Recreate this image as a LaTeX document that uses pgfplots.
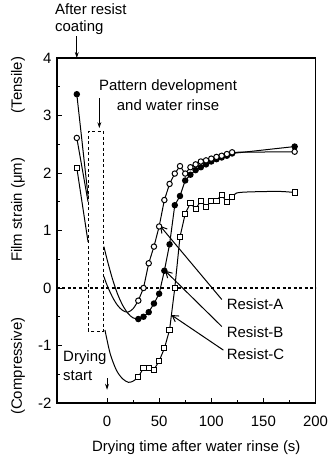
\documentclass[border=0pt]{standalone}
\usepackage{fontspec}
\setmainfont{Liberation Sans}
\usepackage{pgfplots}
\pgfplotsset{compat=1.18}
\usetikzlibrary{arrows.meta}

\begin{document}
\begin{tikzpicture}[font=\fontsize{15}{18}\selectfont]
\useasboundingbox (-57bp,-58bp) rectangle (279bp,403bp);
\begin{axis}[
  at={(0,0)}, anchor=south west,
  scale only axis, width=258.5bp, height=345bp,
  xmin=-48, xmax=200, ymin=-2, ymax=4,
  axis line style={line width=1.5bp},
  xtick={0,50,100,150,200}, minor xtick={25,75,125,175},
  ytick={-2,-1,0,1,2,3,4}, minor ytick={-1.5,-0.5,0.5,1.5,2.5,3.5},
  tick align=inside, xtick pos=bottom, ytick pos=left,
  major tick length=5bp, minor tick length=3bp,
  every tick/.style={line width=0.9bp, black},
  /pgf/number format/assume math mode=true,
  ticklabel style={font=\fontsize{15}{18}\selectfont},
  xticklabel style={anchor=base, yshift=-23bp},
  yticklabel style={xshift=-2bp},
  xlabel={Drying time after water rinse (s)},
  xlabel style={at={(axis description cs:0.5,0)}, anchor=base, yshift=-48.5bp, xshift=10bp},
  clip=false,
]
% zero line and box
\addplot[black, line width=1.1bp, dash pattern=on 3bp off 2.5bp] coordinates {(-48,0) (200,0)};
\addplot[black, line width=1.1bp, dash pattern=on 3bp off 2.5bp] coordinates {(-18.2,-0.75) (-18.2,2.72) (-3.4,2.72) (-3.4,-0.75) (-18.2,-0.75)};

% before box
\addplot[black, line width=1bp, mark=*, mark size=2.7bp, mark indices={1}] coordinates {(-29,3.37) (-18.2,1.6)};
\addplot[black, line width=1bp, mark=*, mark size=2.7bp, mark indices={1}, mark options={fill=white}] coordinates {(-29,2.61) (-18.2,1.5)};
\addplot[black, line width=1bp, mark=square*, mark size=2.6bp, mark indices={1}, mark options={fill=white}] coordinates {(-29,2.09) (-18.2,0.8)};

% smooth starting curves
\addplot[black, line width=1bp, smooth] coordinates {(-3,0.2) (0,0.05) (5,-0.15) (10,-0.3) (15,-0.39) (20,-0.42) (25,-0.36) (30,-0.22)};
\addplot[black, line width=1bp, smooth] coordinates {(-3,0.72) (0,0.5) (5,0.17) (10,-0.1) (15,-0.3) (20,-0.44) (25,-0.52) (30,-0.54)};
\addplot[black, line width=1bp, smooth] coordinates {(-2,-0.73) (3,-1.14) (9,-1.43) (15,-1.58) (20.5,-1.64) (25,-1.62) (30,-1.55)};

% Resist-C tail
\addplot[black, line width=1bp, smooth] coordinates {(120,1.58) (124,1.65) (135,1.67) (165,1.68) (180,1.66)};

% Resist-C markers
\addplot[black, line width=1bp, mark=square*, mark size=2.6bp, mark options={fill=white}] coordinates {
(30,-1.55) (35,-1.39) (40,-1.39) (45,-1.42) (50,-1.27) (55,-1.05) (60,-0.73) (65,0.0)
(70,0.89) (75,1.29) (80,1.48) (85,1.37) (90,1.52) (95,1.41) (100,1.51) (105,1.52)
(110,1.62) (115,1.49) (120,1.58)};
\addplot[black, only marks, line width=1bp, mark=square*, mark size=2.6bp, mark options={fill=white}] coordinates {(180,1.66)};

% Resist-B markers
\addplot[black, line width=1bp, mark=*, mark size=2.7bp] coordinates {
(30,-0.54) (35,-0.5) (40,-0.42) (45,-0.27) (50,-0.1) (55,0.3) (60,0.76) (65,1.44)
(70,1.6) (75,1.87) (80,1.97) (85,2.05) (90,2.1) (95,2.15) (100,2.2) (105,2.24)
(110,2.27) (115,2.3) (120,2.34) (180,2.46)};

% Resist-A markers
\addplot[black, line width=1bp, mark=*, mark size=2.7bp, mark options={fill=white}] coordinates {
(30,-0.22) (35,0.0) (40,0.43) (45,0.72) (50,1.07) (55,1.53) (60,1.81) (65,1.99)
(70,2.12) (75,1.99) (80,2.1) (85,2.15) (90,2.2) (95,2.22) (100,2.25) (105,2.28)
(110,2.3) (115,2.33) (120,2.36) (180,2.37)};

% annotations
\node[anchor=base west, inner sep=0] at (axis cs:-49.9,4.76) {After resist};
\node[anchor=base west, inner sep=0] at (axis cs:-49.9,4.46) {coating};
\draw[line width=0.9bp, -{Stealth[length=6bp,width=4bp]}] (axis cs:-29,4.38) -- (axis cs:-29,4.0);

\node[anchor=base, inner sep=0] at (axis cs:58.5,3.43) {Pattern development};
\node[anchor=base, inner sep=0] at (axis cs:58.5,3.08) {and water rinse};
\draw[line width=0.9bp, -{Stealth[length=6bp,width=4bp]}] (axis cs:-7.4,3.30) -- (axis cs:-7.4,2.78);

\node[anchor=base west, inner sep=0] at (axis cs:-42.2,-1.28) {Drying};
\node[anchor=base west, inner sep=0] at (axis cs:-42.2,-1.6) {start};
\draw[line width=0.9bp, -{Stealth[length=6bp,width=4bp]}] (axis cs:0,-1.57) -- (axis cs:0,-1.77);

\node[anchor=base west, inner sep=0] at (axis cs:114.8,-0.38) {Resist-A};
\node[anchor=base west, inner sep=0] at (axis cs:114.8,-0.86) {Resist-B};
\node[anchor=base west, inner sep=0] at (axis cs:114.8,-1.24) {Resist-C};
\draw[line width=1bp, -{Straight Barb[length=6bp,width=7bp]}] (axis cs:110.1,-0.2) -- (axis cs:50.9,1.08);
\draw[line width=1bp, -{Straight Barb[length=6bp,width=7bp]}] (axis cs:110.1,-0.67) -- (axis cs:55.7,0.3);
\draw[line width=1bp, -{Straight Barb[length=6bp,width=7bp]}] (axis cs:111.6,-1.08) -- (axis cs:61.8,-0.47);

% y labels
\node[rotate=90, anchor=center] at ([xshift=-39bp]axis cs:-48,3.53) {(Tensile)};
\node[rotate=90, anchor=center] at ([xshift=-39bp]axis cs:-48,1.36) {Film strain (μm)};
\node[rotate=90, anchor=center] at ([xshift=-39bp]axis cs:-48,-1.36) {(Compressive)};
\end{axis}
\end{tikzpicture}
\end{document}
